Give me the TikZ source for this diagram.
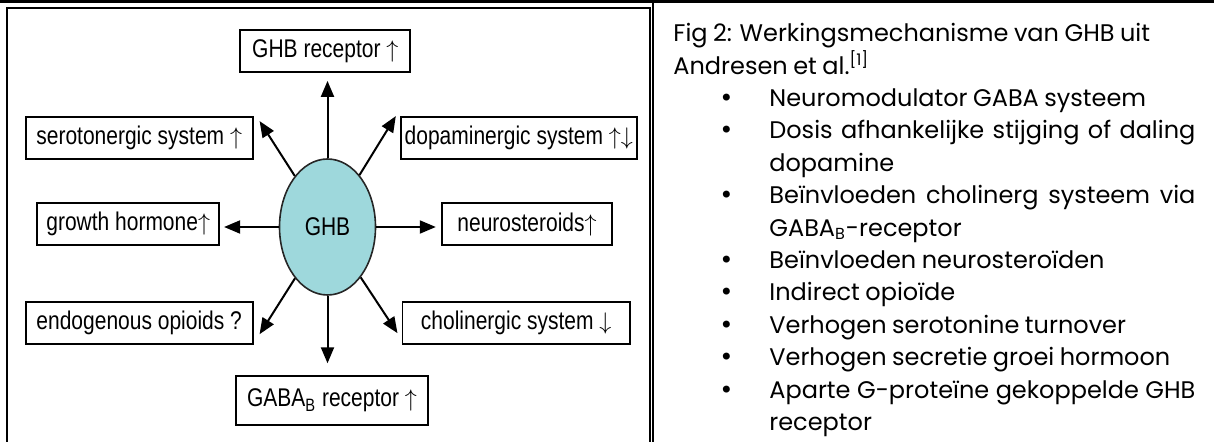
\documentclass[tikz,border=0pt]{standalone}
\usepackage{fontspec}
\usepackage{enumitem}
\setmainfont{Poppins}
\newfontfamily\narrowsans[FakeStretch=0.82]{Liberation Sans}
\newfontfamily\bulletfont{DejaVu Sans}
\usetikzlibrary{shapes.geometric, arrows.meta, positioning, calc}
\definecolor{ghbteal}{RGB}{158,216,220}
\setlist[itemize]{label={\bulletfont •}, leftmargin=48pt, labelsep=18pt, topsep=0pt, partopsep=0pt, itemsep=0pt, parsep=0pt}
\newcommand{\tightspaces}{\spaceskip=0.23em plus 1em minus 0.07em\relax}
\tikzstyle{effect} = [rectangle, draw=black, line width=0.9pt, minimum height=21pt, inner sep=2pt, font=\narrowsans\fontsize{12.8}{15}\selectfont, align=center]
\tikzstyle{arrow} = [line width=1pt, -{Triangle[length=8pt, width=6.5pt]}]
\newcommand{\up}{$\uparrow$}
\newcommand{\down}{$\downarrow$}

\begin{document}
\begin{tikzpicture}[x=0.5pt, y=-0.5pt,
    drug/.style={ellipse, draw=black!85, line width=0.8pt, fill=ghbteal, minimum width=48pt, minimum height=68pt, inner sep=0pt, font=\narrowsans\fontsize{12.8}{15}\selectfont},
    notes/.style={text width=261pt, align=justify, inner sep=0pt, font=\fontsize{12}{16.2}\selectfont\tightspaces}
  ]
    \useasboundingbox (0,0) rectangle (1214,442);

    % table lines and figure frame
    \draw[line width=1.2pt] (0,1.5) -- (1214,1.5);
    \draw[line width=0.9pt] (7,460) -- (7,8) -- (650,8) -- (650,460);
    \draw[line width=0.9pt] (653,0) -- (653,460);

    % centre
    \node[drug] (ghb) at (327.5,227) {GHB};

    % effect boxes
    \node[effect, minimum width=85pt]    (rec)   at (325.3,51)    {GHB receptor \up};
    \node[effect, minimum width=113.5pt] (sero)  at (139.2,138)   {serotonergic system \up};
    \node[effect, minimum width=116.5pt] (dopa)  at (518.8,138)   {dopaminergic system \up\down};
    \node[effect, minimum width=91pt]    (grow)  at (128.2,224.2) {growth hormone\up};
    \node[effect, minimum width=85.3pt]  (neuro) at (527,224.2)   {neurosteroids\up};
    \node[effect, minimum width=113.5pt] (endo)  at (139.2,323.3) {endogenous opioids ?};
    \node[effect, minimum width=113.8pt] (chol)  at (516.2,323.3) {cholinergic system \down};
    \node[effect, minimum width=96pt, minimum height=24.5pt] (gaba) at (332,400.7) {GABA\textsubscript{B} receptor \up};

    % arrow tips
    \coordinate (tipN)  at ($(ghb.center |- rec.south)+(0,8)$);
    \coordinate (tipS)  at ($(ghb.center |- gaba.north)+(0,-12)$);
    \coordinate (tipW)  at ($(ghb.center -| grow.east)+(4,0)$);
    \coordinate (tipE)  at ($(ghb.center -| neuro.west)+(-5,0)$);
    \coordinate (tipNW) at ($(sero.north east)+(6,5)$);
    \coordinate (tipNE) at ($(dopa.north west)+(-4,0)$);
    \coordinate (tipSW) at ($(endo.south east)+(6,-11)$);
    \coordinate (tipSE) at ($(chol.south west)+(-4,-12)$);

    \foreach \t in {tipN, tipS, tipW, tipE, tipNW, tipNE, tipSW, tipSE}
      \draw[arrow] (ghb) -- (\t);

    % caption and list
    \node[notes, anchor=base west] (caption) at (673,41.7) {Fig 2: Werkingsmechanisme van GHB uit\newline
      Andresen et al.\textsuperscript{[1]}
      \begin{itemize}
        \item Neuromodulator GABA systeem
        \item Dosis afhankelijke stijging of daling\linebreak dopamine
        \item Beïnvloeden cholinerg systeem via\linebreak GABA\textsubscript{B}-receptor
        \item Beïnvloeden neurosteroïden
        \item Indirect opioïde
        \item Verhogen serotonine turnover
        \item Verhogen secretie groei hormoon
        \item Aparte G-proteïne gekoppelde GHB\linebreak receptor
      \end{itemize}};
\end{tikzpicture}
\end{document}
